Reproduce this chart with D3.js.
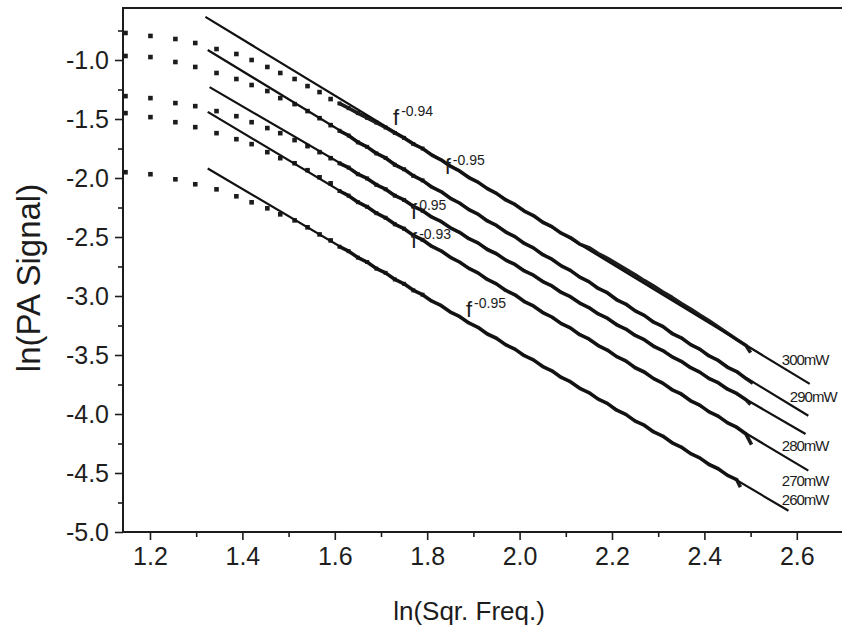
<!DOCTYPE html>
<html>
<head>
<meta charset="utf-8">
<script src="https://cdn.jsdelivr.net/npm/d3@7"></script>
<style>
body { margin: 0; background: #fff; }
svg { display: block; }
.axis text { font-family: "Liberation Sans", Arial, sans-serif; font-size: 25px; fill: #1e1e1e; }
.axis line { stroke: #1e1e1e; stroke-width: 1.6px; }
.axis path { display: none; }
</style>
</head>
<body>
<script>
// Tick labels
var xTicks = [1.2, 1.4, 1.6, 1.8, 2.0, 2.2, 2.4, 2.6];
var xMinorTicks = [1.3, 1.5, 1.7, 1.9, 2.1, 2.3, 2.5];
var yTicks = [-5.0, -4.5, -4.0, -3.5, -3.0, -2.5, -2.0, -1.5, -1.0];
var yMinorTicks = [-4.75, -4.25, -3.75, -3.25, -2.75, -2.25, -1.75, -1.25, -0.75];

// Series names and fitted exponents
var powers = ["300mW", "290mW", "280mW", "270mW", "260mW"];
var exponents = ["-0.94", "-0.95", "0.95", "-0.93", "-0.95"];

// Low frequency points (shared x)
var lowX = [1.147, 1.201, 1.255, 1.298, 1.344, 1.387, 1.420, 1.454, 1.482, 1.513, 1.541, 1.567, 1.591];
var low300 = [-0.771, -0.796, -0.822, -0.856, -0.907, -0.949, -1.000, -1.059, -1.110, -1.161, -1.221, -1.272, -1.331];
var low290 = [-0.966, -0.975, -1.017, -1.059, -1.110, -1.161, -1.212, -1.263, -1.323, -1.374, -1.433, -1.493, -1.552];
var low280 = [-1.306, -1.323, -1.365, -1.391, -1.433, -1.476, -1.527, -1.577, -1.620, -1.679, -1.730, -1.781, -1.832];
var low270 = [-1.450, -1.484, -1.527, -1.569, -1.620, -1.671, -1.713, -1.781, -1.832, -1.875, -1.934, -1.994, -2.045];
var low260 = [-1.951, -1.968, -2.011, -2.053, -2.096, -2.155, -2.206, -2.257, -2.308, -2.359, -2.418, -2.478, -2.529];

// Dense part of the spectra (shared x)
var traceX = [1.61, 1.63, 1.65, 1.67, 1.69, 1.71, 1.73, 1.75, 1.77, 1.79, 1.81, 1.83, 1.85, 1.87, 1.89,
              1.91, 1.93, 1.95, 1.97, 1.99, 2.01, 2.03, 2.05, 2.07, 2.09, 2.11, 2.13, 2.15, 2.17, 2.19,
              2.21, 2.23, 2.25, 2.27, 2.29, 2.31, 2.33, 2.35, 2.37, 2.39, 2.41, 2.43, 2.45, 2.47, 2.49];
var trace300 = [-1.368, -1.408, -1.450, -1.490, -1.530, -1.572, -1.618, -1.660, -1.712, -1.750, -1.806, -1.846, -1.900, -1.940, -1.996,
                -2.035, -2.090, -2.130, -2.186, -2.224, -2.280, -2.318, -2.375, -2.412, -2.468, -2.505, -2.560, -2.590, -2.640, -2.680,
                -2.728, -2.774, -2.820, -2.870, -2.916, -2.966, -3.012, -3.064, -3.110, -3.162, -3.210, -3.262, -3.315, -3.368, -3.420];
var trace290 = [-1.600, -1.640, -1.698, -1.736, -1.792, -1.830, -1.888, -1.926, -1.982, -2.020, -2.078, -2.115, -2.172, -2.212, -2.268,
                -2.306, -2.364, -2.402, -2.458, -2.497, -2.555, -2.592, -2.650, -2.688, -2.745, -2.783, -2.840, -2.878, -2.936, -2.972,
                -3.032, -3.068, -3.126, -3.164, -3.222, -3.258, -3.318, -3.354, -3.412, -3.450, -3.508, -3.546, -3.604, -3.640, -3.700];
var trace280 = [-1.875, -1.912, -1.968, -2.004, -2.058, -2.095, -2.150, -2.186, -2.240, -2.277, -2.332, -2.368, -2.422, -2.460, -2.514,
                -2.550, -2.606, -2.642, -2.696, -2.733, -2.788, -2.824, -2.878, -2.915, -2.970, -3.006, -3.060, -3.098, -3.152, -3.188,
                -3.244, -3.280, -3.334, -3.370, -3.426, -3.462, -3.516, -3.553, -3.608, -3.645, -3.700, -3.735, -3.790, -3.826, -3.880];
var trace270 = [-2.110, -2.150, -2.205, -2.244, -2.298, -2.337, -2.392, -2.430, -2.486, -2.524, -2.580, -2.617, -2.672, -2.712, -2.766,
                -2.804, -2.860, -2.897, -2.953, -2.990, -3.047, -3.084, -3.140, -3.178, -3.234, -3.270, -3.328, -3.364, -3.420, -3.458,
                -3.514, -3.550, -3.608, -3.644, -3.700, -3.738, -3.795, -3.830, -3.888, -3.925, -3.982, -4.018, -4.075, -4.112, -4.170];
var trace260 = [-2.582, -2.620, -2.675, -2.712, -2.768, -2.804, -2.860, -2.897, -2.952, -2.989, -3.044, -3.080, -3.136, -3.173, -3.228,
                -3.265, -3.322, -3.358, -3.414, -3.450, -3.506, -3.541, -3.598, -3.634, -3.690, -3.726, -3.782, -3.818, -3.874, -3.910,
                -3.968, -4.003, -4.060, -4.095, -4.152, -4.187, -4.244, -4.280, -4.336, -4.372, -4.428, -4.464, -4.520, -4.556];
// last measured point of each spectrum
var endX = [2.500, 2.505, 2.500, 2.502, 2.478];
var endY = [-3.480, -3.740, -3.920, -4.260, -4.620];

// Power-law fit lines
var fitX0 = [1.320, 1.325, 1.329, 1.325, 1.325];
var fitY0 = [-0.635, -0.915, -1.230, -1.440, -1.920];
var fitX1 = [2.628, 2.625, 2.619, 2.625, 2.582];
var fitY1 = [-3.745, -4.015, -4.170, -4.480, -4.820];

var lows = [low300, low290, low280, low270, low260];
var traces = [trace300, trace290, trace280, trace270, trace260];

// Size
var w = 842;
var h = 633;
var ink = "#1c1c1c";

// Scales
var xScale = d3.scaleLinear()
    .domain([1.1416, 2.70])
    .range([123, 843]);

var yScale = d3.scaleLinear()
    .domain([-5.0, -0.5593])
    .range([532, 8]);

var svg = d3.select("body")
    .append("svg")
    .attr("width", w)
    .attr("height", h);

// Build series table
var series = powers.map(function(name, i) {
    var pts = traceX.slice(0, traces[i].length).map(function(x, j) {
        return {x: x, y: traces[i][j]};
    });
    pts.push({x: endX[i], y: endY[i]});
    return {
        name: name,
        exp: exponents[i],
        low: lowX.map(function(x, j) { return {x: x, y: lows[i][j]}; }),
        trace: pts,
        fit: [{x: fitX0[i], y: fitY0[i]}, {x: fitX1[i], y: fitY1[i]}]
    };
});

// Axes
var xAxis = d3.axisBottom(xScale)
    .tickValues(xTicks)
    .tickSize(8)
    .tickPadding(7)
    .tickFormat(function(d) { return d.toFixed(1); });
var xMinor = d3.axisBottom(xScale)
    .tickValues(xMinorTicks)
    .tickSize(5)
    .tickFormat("");
var yAxis = d3.axisLeft(yScale)
    .tickValues(yTicks)
    .tickSize(8)
    .tickPadding(6)
    .tickFormat(function(d) { return d.toFixed(1); });
var yMinor = d3.axisLeft(yScale)
    .tickValues(yMinorTicks)
    .tickSize(5)
    .tickFormat("");

svg.append("g").attr("class", "axis").attr("transform", "translate(0,532)").call(xAxis);
svg.append("g").attr("class", "axis").attr("transform", "translate(0,532)").call(xMinor);
svg.append("g").attr("class", "axis").attr("transform", "translate(123,0)").call(yAxis);
svg.append("g").attr("class", "axis").attr("transform", "translate(123,0)").call(yMinor);

// Frame (top, left, bottom)
svg.append("path")
    .attr("d", "M" + xScale.range()[1] + "," + yScale.range()[1] +
               "H" + xScale.range()[0] + "V" + yScale.range()[0] + "H" + xScale.range()[1])
    .attr("fill", "none")
    .attr("stroke", ink)
    .attr("stroke-width", 2);

var line = d3.line()
    .x(function(d) { return xScale(d.x); })
    .y(function(d) { return yScale(d.y); });

var group = svg.selectAll(".series")
    .data(series)
    .enter().append("g")
    .attr("class", "series");

// low frequency points
group.selectAll(".low")
    .data(function(d) { return d.low; })
    .enter().append("rect")
    .attr("x", function(d) { return xScale(d.x) - 2.3; })
    .attr("y", function(d) { return yScale(d.y) - 2.3; })
    .attr("width", 4.6)
    .attr("height", 4.6)
    .attr("fill", ink);

// dense spectra
group.append("path")
    .attr("d", function(d) { return line(d.trace); })
    .attr("fill", "none")
    .attr("stroke", ink)
    .attr("stroke-width", 3.6)
    .attr("stroke-linejoin", "round");

group.selectAll(".tp")
    .data(function(d) { return d.trace.filter(function(p) { return p.x < 1.8; }); })
    .enter().append("rect")
    .attr("x", function(d) { return xScale(d.x) - 2; })
    .attr("y", function(d) { return yScale(d.y) - 2; })
    .attr("width", 4)
    .attr("height", 4)
    .attr("fill", ink);

// fit lines
group.append("path")
    .attr("d", function(d) { return line(d.fit); })
    .attr("fill", "none")
    .attr("stroke", "#111")
    .attr("stroke-width", 2.2);

// power labels
var powerPos = [[2.5676, -3.585], [2.585, -3.898], [2.5676, -4.314], [2.5676, -4.610], [2.5676, -4.771]];
group.append("text")
    .attr("x", function(d, i) { return xScale(powerPos[i][0]); })
    .attr("y", function(d, i) { return yScale(powerPos[i][1]); })
    .style("font-family", "'Liberation Sans', Arial, sans-serif")
    .style("font-size", "15px")
    .style("letter-spacing", "-1px")
    .style("fill", ink)
    .text(function(d) { return d.name; });

// exponent labels
var expPos = [[1.726, -1.551], [1.838, -1.966], [1.765, -2.347], [1.765, -2.593], [1.884, -3.178]];
var expText = group.append("text")
    .attr("x", function(d, i) { return xScale(expPos[i][0]); })
    .attr("y", function(d, i) { return yScale(expPos[i][1]); })
    .style("font-family", "'Liberation Sans', Arial, sans-serif")
    .style("fill", ink);
expText.append("tspan")
    .style("font-size", "22px")
    .text("f");
expText.append("tspan")
    .attr("dx", 2)
    .attr("dy", -9)
    .style("font-size", "14px")
    .text(function(d) { return d.exp; });

// Axis titles
svg.append("text")
    .attr("x", 469)
    .attr("y", 620)
    .style("text-anchor", "middle")
    .style("font-family", "'Liberation Sans', Arial, sans-serif")
    .style("font-size", "26px")
    .style("fill", ink)
    .text("ln(Sqr. Freq.)");

svg.append("text")
    .attr("transform", "rotate(-90)")
    .attr("x", -278)
    .attr("y", 40)
    .style("text-anchor", "middle")
    .style("font-family", "'Liberation Sans', Arial, sans-serif")
    .style("font-size", "33px")
    .style("fill", ink)
    .text("ln(PA Signal)");
</script>
</body>
</html>
